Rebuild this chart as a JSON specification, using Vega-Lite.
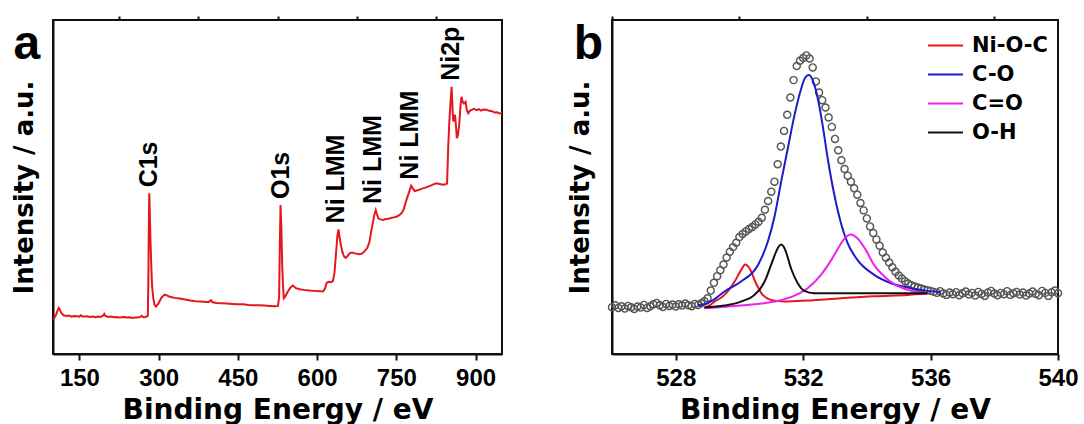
{
  "$schema": "https://vega.github.io/schema/vega-lite/v6.json",
  "padding": {"left": 10, "top": 14, "right": 0, "bottom": 0},
  "background": "white",
  "spacing": 59,
  "resolve": {"scale": {"color": "independent"}, "legend": {"color": "independent"}},
  "config": {
    "view": {"stroke": "#111111", "strokeWidth": 2},
    "axis": {"grid": false},
    "font": "Liberation Sans"
  },
  "datasets": {
    "survey": [
      {"E": 100, "I": 10.6}, {"E": 103, "I": 10.9}, {"E": 106, "I": 11.8}, {"E": 109, "I": 13.2}, {"E": 111, "I": 13.8},
      {"E": 113, "I": 13.2}, {"E": 116, "I": 12.2}, {"E": 120, "I": 11.6}, {"E": 125, "I": 11.4}, {"E": 130, "I": 11.5},
      {"E": 135, "I": 11.2}, {"E": 140, "I": 11.4}, {"E": 145, "I": 11.3}, {"E": 150, "I": 11.2}, {"E": 153, "I": 11.6},
      {"E": 156, "I": 11.2}, {"E": 160, "I": 11.2}, {"E": 165, "I": 11.3}, {"E": 170, "I": 11.1}, {"E": 175, "I": 11.2},
      {"E": 180, "I": 11.0}, {"E": 185, "I": 11.2}, {"E": 190, "I": 11.1}, {"E": 195, "I": 11.5}, {"E": 197, "I": 12.0},
      {"E": 199, "I": 11.4}, {"E": 205, "I": 11.1}, {"E": 210, "I": 11.2}, {"E": 215, "I": 11.0}, {"E": 220, "I": 11.1},
      {"E": 225, "I": 10.9}, {"E": 230, "I": 11.0}, {"E": 235, "I": 11.1}, {"E": 240, "I": 10.9}, {"E": 245, "I": 11.0},
      {"E": 250, "I": 10.8}, {"E": 255, "I": 10.9}, {"E": 260, "I": 10.9}, {"E": 265, "I": 11.1}, {"E": 268, "I": 11.4},
      {"E": 271, "I": 11.0}, {"E": 275, "I": 11.1}, {"E": 279.5, "I": 11.4}, {"E": 280.5, "I": 22.0}, {"E": 281.5, "I": 40.0},
      {"E": 282.2, "I": 48.1}, {"E": 283, "I": 44.0}, {"E": 284.5, "I": 34.0}, {"E": 286, "I": 26.6}, {"E": 287.5, "I": 20.5},
      {"E": 289.8, "I": 16.7}, {"E": 292.5, "I": 14.6}, {"E": 295, "I": 14.2}, {"E": 300, "I": 15.2}, {"E": 305, "I": 16.8},
      {"E": 310.6, "I": 17.7}, {"E": 315, "I": 17.6}, {"E": 320, "I": 17.2}, {"E": 325, "I": 17.0}, {"E": 330, "I": 16.8},
      {"E": 340, "I": 16.6}, {"E": 350, "I": 16.3}, {"E": 360, "I": 16.0}, {"E": 370, "I": 15.8}, {"E": 380, "I": 15.7},
      {"E": 390, "I": 15.6}, {"E": 395, "I": 15.6}, {"E": 399, "I": 16.1}, {"E": 402, "I": 15.5}, {"E": 410, "I": 15.3},
      {"E": 420, "I": 15.2}, {"E": 430, "I": 15.1}, {"E": 440, "I": 15.0}, {"E": 450, "I": 14.9}, {"E": 460, "I": 14.9},
      {"E": 470, "I": 14.7}, {"E": 480, "I": 14.6}, {"E": 490, "I": 14.6}, {"E": 500, "I": 14.5}, {"E": 510, "I": 14.4},
      {"E": 520, "I": 14.3}, {"E": 526, "I": 14.4}, {"E": 528, "I": 17.0}, {"E": 529.5, "I": 33.0}, {"E": 530.7, "I": 44.6},
      {"E": 532.3, "I": 38.0}, {"E": 533.9, "I": 26.6}, {"E": 535.5, "I": 20.0}, {"E": 537, "I": 16.7}, {"E": 540, "I": 17.3},
      {"E": 544.6, "I": 18.7}, {"E": 549, "I": 19.8}, {"E": 554, "I": 20.5}, {"E": 560, "I": 19.7}, {"E": 566.8, "I": 19.4},
      {"E": 575, "I": 19.2}, {"E": 585, "I": 19.0}, {"E": 595, "I": 18.9}, {"E": 605, "I": 18.8}, {"E": 611, "I": 18.7},
      {"E": 615, "I": 19.6}, {"E": 618, "I": 21.3}, {"E": 622, "I": 21.6}, {"E": 626, "I": 21.5}, {"E": 630, "I": 21.8},
      {"E": 633, "I": 24.5}, {"E": 636, "I": 30.6}, {"E": 638.5, "I": 35.5}, {"E": 640.5, "I": 37.3}, {"E": 642, "I": 35.5},
      {"E": 645, "I": 32.6}, {"E": 648, "I": 30.5}, {"E": 651, "I": 29.2}, {"E": 654, "I": 28.8}, {"E": 658, "I": 29.4},
      {"E": 662, "I": 30.2}, {"E": 666, "I": 30.4}, {"E": 670, "I": 30.2}, {"E": 675, "I": 30.0}, {"E": 680, "I": 29.9},
      {"E": 685, "I": 30.1}, {"E": 690, "I": 30.8}, {"E": 695, "I": 31.8}, {"E": 699, "I": 33.5}, {"E": 702, "I": 36.4},
      {"E": 705, "I": 38.8}, {"E": 708, "I": 41.5}, {"E": 711, "I": 43.1}, {"E": 713, "I": 42.0}, {"E": 716, "I": 40.6},
      {"E": 720, "I": 40.3}, {"E": 725, "I": 40.1}, {"E": 730, "I": 40.4}, {"E": 735, "I": 40.5}, {"E": 740, "I": 40.7},
      {"E": 745, "I": 40.9}, {"E": 750, "I": 41.1}, {"E": 755, "I": 41.5}, {"E": 760, "I": 42.2}, {"E": 764, "I": 43.3},
      {"E": 767, "I": 45.0}, {"E": 770, "I": 46.6}, {"E": 774, "I": 48.4}, {"E": 778, "I": 50.4}, {"E": 781, "I": 49.6},
      {"E": 785, "I": 48.8}, {"E": 790, "I": 49.0}, {"E": 795, "I": 49.3}, {"E": 800, "I": 49.6}, {"E": 805, "I": 49.8},
      {"E": 810, "I": 50.1}, {"E": 815, "I": 50.4}, {"E": 820, "I": 50.8}, {"E": 826, "I": 51.1}, {"E": 832, "I": 50.9},
      {"E": 838, "I": 50.7}, {"E": 843, "I": 50.8}, {"E": 846, "I": 51.0}, {"E": 848.2, "I": 62.0}, {"E": 850, "I": 68.6},
      {"E": 852, "I": 74.0}, {"E": 854.6, "I": 80.0}, {"E": 856.5, "I": 73.0}, {"E": 857.7, "I": 69.6}, {"E": 860.9, "I": 71.6},
      {"E": 862.5, "I": 69.0}, {"E": 864.5, "I": 64.6}, {"E": 866.5, "I": 65.5}, {"E": 869, "I": 68.6}, {"E": 871.5, "I": 74.5},
      {"E": 873.5, "I": 77.0}, {"E": 875.5, "I": 75.5}, {"E": 877.9, "I": 75.0}, {"E": 881.1, "I": 75.5}, {"E": 883.5, "I": 73.0},
      {"E": 886.1, "I": 72.1}, {"E": 889, "I": 72.8}, {"E": 892.5, "I": 73.1}, {"E": 897, "I": 73.4}, {"E": 902, "I": 73.0},
      {"E": 906, "I": 73.3}, {"E": 910, "I": 72.9}, {"E": 915, "I": 73.2}, {"E": 921, "I": 73.1}, {"E": 926, "I": 72.8},
      {"E": 931, "I": 72.7}, {"E": 936, "I": 72.3}, {"E": 941, "I": 72.4}, {"E": 945, "I": 72.0}, {"E": 950, "I": 72.1}
    ],
    "peaks": [
      {"label": "C1s", "E": 282, "I": 48.1},
      {"label": "O1s", "E": 531, "I": 44.6},
      {"label": "Ni LMM", "E": 636.5, "I": 37.3},
      {"label": "Ni LMM", "E": 706.6, "I": 43.1},
      {"label": "Ni LMM", "E": 775.5, "I": 50.4},
      {"label": "Ni2p", "E": 852.6, "I": 80.0}
    ],
    "panelA": [{"label": "a", "E": 25.2, "I": 88.3}],
    "panelB": [{"label": "b", "E": 524.8, "I": 88.3}],
    "raw": [
      {"E": 526.0, "I": 14.0}, {"E": 526.1, "I": 14.6}, {"E": 526.2, "I": 13.8}, {"E": 526.3, "I": 14.3}, {"E": 526.4, "I": 13.6},
      {"E": 526.5, "I": 14.4}, {"E": 526.6, "I": 14.0}, {"E": 526.7, "I": 13.5}, {"E": 526.8, "I": 14.2}, {"E": 526.9, "I": 13.9},
      {"E": 527.0, "I": 14.7}, {"E": 527.1, "I": 13.8}, {"E": 527.2, "I": 14.3}, {"E": 527.3, "I": 14.9}, {"E": 527.4, "I": 15.3},
      {"E": 527.5, "I": 14.6}, {"E": 527.6, "I": 14.1}, {"E": 527.7, "I": 15.0}, {"E": 527.8, "I": 14.4}, {"E": 527.9, "I": 14.8},
      {"E": 528.0, "I": 14.2}, {"E": 528.1, "I": 14.9}, {"E": 528.2, "I": 14.5}, {"E": 528.3, "I": 15.1}, {"E": 528.4, "I": 14.6},
      {"E": 528.5, "I": 14.3}, {"E": 528.6, "I": 15.0}, {"E": 528.7, "I": 14.7}, {"E": 528.8, "I": 15.2}, {"E": 528.9, "I": 15.8},
      {"E": 529.0, "I": 16.7}, {"E": 529.1, "I": 19.0}, {"E": 529.2, "I": 21.3}, {"E": 529.3, "I": 23.3}, {"E": 529.4, "I": 25.1},
      {"E": 529.5, "I": 26.8}, {"E": 529.6, "I": 28.9}, {"E": 529.7, "I": 30.6}, {"E": 529.8, "I": 32.0}, {"E": 529.9, "I": 33.3},
      {"E": 530.0, "I": 35.0}, {"E": 530.1, "I": 35.9}, {"E": 530.2, "I": 36.7}, {"E": 530.3, "I": 37.4}, {"E": 530.4, "I": 38.0},
      {"E": 530.5, "I": 38.8}, {"E": 530.6, "I": 39.6}, {"E": 530.7, "I": 40.8}, {"E": 530.8, "I": 43.2}, {"E": 530.9, "I": 45.8},
      {"E": 531.0, "I": 48.6}, {"E": 531.1, "I": 51.6}, {"E": 531.2, "I": 56.8}, {"E": 531.3, "I": 62.1}, {"E": 531.4, "I": 66.8},
      {"E": 531.5, "I": 71.6}, {"E": 531.6, "I": 76.8}, {"E": 531.7, "I": 82.0}, {"E": 531.8, "I": 86.2}, {"E": 531.9, "I": 87.8},
      {"E": 532.0, "I": 88.6}, {"E": 532.1, "I": 89.4}, {"E": 532.2, "I": 88.5}, {"E": 532.3, "I": 85.8}, {"E": 532.4, "I": 81.6},
      {"E": 532.5, "I": 78.3}, {"E": 532.6, "I": 76.0}, {"E": 532.7, "I": 73.8}, {"E": 532.8, "I": 70.8}, {"E": 532.9, "I": 68.0},
      {"E": 533.0, "I": 64.4}, {"E": 533.1, "I": 61.0}, {"E": 533.2, "I": 58.0}, {"E": 533.3, "I": 55.4}, {"E": 533.4, "I": 53.4},
      {"E": 533.5, "I": 51.6}, {"E": 533.6, "I": 49.6}, {"E": 533.7, "I": 47.7}, {"E": 533.8, "I": 45.2}, {"E": 533.9, "I": 43.0},
      {"E": 534.0, "I": 40.6}, {"E": 534.1, "I": 38.2}, {"E": 534.2, "I": 36.2}, {"E": 534.3, "I": 34.3}, {"E": 534.4, "I": 32.4},
      {"E": 534.5, "I": 30.4}, {"E": 534.6, "I": 28.8}, {"E": 534.7, "I": 27.4}, {"E": 534.8, "I": 26.0}, {"E": 534.9, "I": 24.6},
      {"E": 535.0, "I": 23.5}, {"E": 535.1, "I": 22.6}, {"E": 535.2, "I": 21.8}, {"E": 535.3, "I": 21.1}, {"E": 535.4, "I": 20.6},
      {"E": 535.5, "I": 20.2}, {"E": 535.6, "I": 19.9}, {"E": 535.7, "I": 19.6}, {"E": 535.8, "I": 19.3}, {"E": 535.9, "I": 19.1},
      {"E": 536.0, "I": 18.9}, {"E": 536.1, "I": 18.6}, {"E": 536.2, "I": 18.3}, {"E": 536.3, "I": 18.8}, {"E": 536.4, "I": 18.1},
      {"E": 536.5, "I": 17.7}, {"E": 536.6, "I": 18.4}, {"E": 536.7, "I": 17.9}, {"E": 536.8, "I": 18.5}, {"E": 536.9, "I": 17.6},
      {"E": 537.0, "I": 18.2}, {"E": 537.1, "I": 18.7}, {"E": 537.2, "I": 17.8}, {"E": 537.3, "I": 18.3}, {"E": 537.4, "I": 17.5},
      {"E": 537.5, "I": 18.6}, {"E": 537.6, "I": 18.0}, {"E": 537.7, "I": 17.4}, {"E": 537.8, "I": 18.4}, {"E": 537.9, "I": 18.9},
      {"E": 538.0, "I": 18.1}, {"E": 538.1, "I": 17.6}, {"E": 538.2, "I": 18.3}, {"E": 538.3, "I": 17.9}, {"E": 538.4, "I": 18.8},
      {"E": 538.5, "I": 17.7}, {"E": 538.6, "I": 18.2}, {"E": 538.7, "I": 18.6}, {"E": 538.8, "I": 17.8}, {"E": 538.9, "I": 18.4},
      {"E": 539.0, "I": 17.5}, {"E": 539.1, "I": 18.1}, {"E": 539.2, "I": 18.7}, {"E": 539.3, "I": 18.0}, {"E": 539.4, "I": 17.6},
      {"E": 539.5, "I": 18.9}, {"E": 539.6, "I": 18.3}, {"E": 539.7, "I": 17.4}, {"E": 539.8, "I": 18.5}, {"E": 539.9, "I": 19.0},
      {"E": 540.0, "I": 18.2}
    ],
    "fit": [
      {"comp": "Ni-O-C", "E": 528.9, "I": 13.9}, {"comp": "Ni-O-C", "E": 529.1, "I": 14.8}, {"comp": "Ni-O-C", "E": 529.22, "I": 15.7},
      {"comp": "Ni-O-C", "E": 529.4, "I": 16.7}, {"comp": "Ni-O-C", "E": 529.53, "I": 17.7}, {"comp": "Ni-O-C", "E": 529.7, "I": 19.6},
      {"comp": "Ni-O-C", "E": 529.85, "I": 21.7}, {"comp": "Ni-O-C", "E": 530.05, "I": 25.1}, {"comp": "Ni-O-C", "E": 530.18, "I": 26.8},
      {"comp": "Ni-O-C", "E": 530.32, "I": 25.6}, {"comp": "Ni-O-C", "E": 530.52, "I": 21.2}, {"comp": "Ni-O-C", "E": 530.73, "I": 17.7},
      {"comp": "Ni-O-C", "E": 530.99, "I": 16.2}, {"comp": "Ni-O-C", "E": 531.41, "I": 15.7}, {"comp": "Ni-O-C", "E": 532.14, "I": 16.0},
      {"comp": "Ni-O-C", "E": 533.19, "I": 16.7}, {"comp": "Ni-O-C", "E": 534.23, "I": 17.3}, {"comp": "Ni-O-C", "E": 535.28, "I": 17.7},
      {"comp": "Ni-O-C", "E": 535.9, "I": 18.1},
      {"comp": "C-O", "E": 528.7, "I": 14.6}, {"comp": "C-O", "E": 528.9, "I": 14.9}, {"comp": "C-O", "E": 529.2, "I": 16.3},
      {"comp": "C-O", "E": 529.53, "I": 18.7}, {"comp": "C-O", "E": 530.05, "I": 21.7}, {"comp": "C-O", "E": 530.58, "I": 26.6},
      {"comp": "C-O", "E": 530.89, "I": 33.6}, {"comp": "C-O", "E": 531.1, "I": 41.1}, {"comp": "C-O", "E": 531.31, "I": 51.6},
      {"comp": "C-O", "E": 531.52, "I": 61.6}, {"comp": "C-O", "E": 531.73, "I": 71.6}, {"comp": "C-O", "E": 531.94, "I": 79.5},
      {"comp": "C-O", "E": 532.06, "I": 82.7}, {"comp": "C-O", "E": 532.18, "I": 83.5}, {"comp": "C-O", "E": 532.3, "I": 82.0},
      {"comp": "C-O", "E": 532.46, "I": 76.5}, {"comp": "C-O", "E": 532.61, "I": 68.6}, {"comp": "C-O", "E": 532.77, "I": 58.6},
      {"comp": "C-O", "E": 532.98, "I": 47.6}, {"comp": "C-O", "E": 533.19, "I": 39.1}, {"comp": "C-O", "E": 533.4, "I": 33.1},
      {"comp": "C-O", "E": 533.71, "I": 28.1}, {"comp": "C-O", "E": 534.23, "I": 23.7}, {"comp": "C-O", "E": 534.76, "I": 21.2},
      {"comp": "C-O", "E": 535.28, "I": 19.9}, {"comp": "C-O", "E": 535.9, "I": 18.9}, {"comp": "C-O", "E": 536.32, "I": 18.5},
      {"comp": "C=O", "E": 528.9, "I": 13.7}, {"comp": "C=O", "E": 530.05, "I": 14.5}, {"comp": "C=O", "E": 531.1, "I": 15.7},
      {"comp": "C=O", "E": 531.73, "I": 17.5}, {"comp": "C=O", "E": 532.14, "I": 19.7}, {"comp": "C=O", "E": 532.56, "I": 23.7},
      {"comp": "C=O", "E": 532.88, "I": 28.1}, {"comp": "C=O", "E": 533.19, "I": 33.1}, {"comp": "C=O", "E": 533.35, "I": 35.1},
      {"comp": "C=O", "E": 533.5, "I": 35.8}, {"comp": "C=O", "E": 533.71, "I": 34.6}, {"comp": "C=O", "E": 533.97, "I": 31.1},
      {"comp": "C=O", "E": 534.23, "I": 26.6}, {"comp": "C=O", "E": 534.55, "I": 23.2}, {"comp": "C=O", "E": 534.86, "I": 20.9},
      {"comp": "C=O", "E": 535.28, "I": 19.2}, {"comp": "C=O", "E": 535.9, "I": 18.1},
      {"comp": "O-H", "E": 528.9, "I": 13.9}, {"comp": "O-H", "E": 529.53, "I": 14.5}, {"comp": "O-H", "E": 530.05, "I": 15.7},
      {"comp": "O-H", "E": 530.47, "I": 17.7}, {"comp": "O-H", "E": 530.65, "I": 19.5}, {"comp": "O-H", "E": 530.79, "I": 21.7},
      {"comp": "O-H", "E": 530.99, "I": 26.6}, {"comp": "O-H", "E": 531.15, "I": 30.6}, {"comp": "O-H", "E": 531.23, "I": 32.1},
      {"comp": "O-H", "E": 531.31, "I": 32.8}, {"comp": "O-H", "E": 531.39, "I": 32.1}, {"comp": "O-H", "E": 531.46, "I": 30.6},
      {"comp": "O-H", "E": 531.62, "I": 25.6}, {"comp": "O-H", "E": 531.83, "I": 21.2}, {"comp": "O-H", "E": 532.04, "I": 18.9},
      {"comp": "O-H", "E": 532.35, "I": 18.2}, {"comp": "O-H", "E": 533.5, "I": 18.2}, {"comp": "O-H", "E": 534.8, "I": 18.2},
      {"comp": "O-H", "E": 535.9, "I": 18.2}
    ]
  },
  "hconcat": [
    {
      "width": 449,
      "height": 334,
      "resolve": {"axis": {"x": "independent"}},
      "layer": [
        {
          "data": {"name": "survey"},
          "mark": {"type": "line", "color": "#e6161c", "strokeWidth": 2},
          "encoding": {
            "x": {"field": "E", "type": "quantitative", "scale": {"domain": [100, 950], "nice": false, "zero": false},
              "axis": {"values": [150, 300, 450, 600, 750, 900], "format": "d", "title": "Binding Energy / eV", "tickSize": 6, "tickWidth": 2, "tickColor": "#111111", "domainColor": "#111111", "domainWidth": 2, "labelFont": "Liberation Sans", "labelFontSize": 24, "labelFontWeight": "bold", "labelColor": "#000000", "labelPadding": 6, "labelFlush": false, "labelOverlap": false, "titleFont": "DejaVu Sans", "titleFontSize": 28, "titleFontWeight": "bold", "titleColor": "#000000", "titlePadding": 6}},
            "y": {"field": "I", "type": "quantitative", "scale": {"domain": [0, 100], "nice": false, "zero": false},
              "axis": {"title": "Intensity / a.u.", "ticks": false, "labels": false, "domainColor": "#111111", "domainWidth": 2, "titleFont": "DejaVu Sans", "titleFontSize": 26, "titleFontWeight": "bold", "titleColor": "#000000", "titlePadding": 16}}
          }
        },
        {
          "data": {"name": "peaks"},
          "mark": {"type": "text", "angle": 270, "align": "left", "baseline": "middle", "dx": 6, "font": "Liberation Sans", "fontSize": 25, "fontWeight": "bold", "color": "#000000"},
          "encoding": {
            "x": {"field": "E", "type": "quantitative",
              "axis": {"values": [225, 375, 525, 675, 825], "labels": false, "title": null, "tickSize": 4, "tickWidth": 2, "tickColor": "#111111", "domain": false}},
            "y": {"field": "I", "type": "quantitative"},
            "text": {"field": "label", "type": "nominal"}
          }
        },
        {
          "data": {"name": "panelA"},
          "mark": {"type": "text", "align": "left", "baseline": "alphabetic", "font": "Liberation Sans", "fontSize": 48, "fontWeight": "bold", "color": "#000000"},
          "encoding": {
            "x": {"field": "E", "type": "quantitative", "axis": null},
            "y": {"field": "I", "type": "quantitative"},
            "text": {"field": "label", "type": "nominal"}
          }
        }
      ]
    },
    {
      "width": 446,
      "height": 334,
      "resolve": {"axis": {"x": "independent"}},
      "layer": [
        {
          "data": {"name": "raw"},
          "mark": {"type": "point", "shape": "circle", "filled": false, "size": 50, "stroke": "#555555", "strokeWidth": 1.4, "opacity": 1},
          "encoding": {
            "x": {"field": "E", "type": "quantitative", "scale": {"domain": [526, 540], "nice": false, "zero": false},
              "axis": {"values": [528, 532, 536, 540], "format": "d", "title": "Binding Energy / eV", "tickSize": 6, "tickWidth": 2, "tickColor": "#111111", "domainColor": "#111111", "domainWidth": 2, "labelFont": "Liberation Sans", "labelFontSize": 24, "labelFontWeight": "bold", "labelColor": "#000000", "labelPadding": 6, "labelFlush": false, "labelOverlap": false, "titleFont": "DejaVu Sans", "titleFontSize": 28, "titleFontWeight": "bold", "titleColor": "#000000", "titlePadding": 6}},
            "y": {"field": "I", "type": "quantitative", "scale": {"domain": [0, 100], "nice": false, "zero": false},
              "axis": {"title": "Intensity / a.u.", "ticks": false, "labels": false, "domainColor": "#111111", "domainWidth": 2, "titleFont": "DejaVu Sans", "titleFontSize": 26, "titleFontWeight": "bold", "titleColor": "#000000", "titlePadding": 19}}
          }
        },
        {
          "data": {"name": "fit"},
          "mark": {"type": "line", "strokeWidth": 2, "interpolate": "monotone"},
          "encoding": {
            "x": {"field": "E", "type": "quantitative",
              "axis": {"values": [526, 530, 534, 538], "labels": false, "title": null, "tickSize": 4, "tickWidth": 2, "tickColor": "#111111", "domain": false}},
            "y": {"field": "I", "type": "quantitative"},
            "color": {"field": "comp", "type": "nominal",
              "scale": {"domain": ["Ni-O-C", "C-O", "C=O", "O-H"], "range": ["#e6161c", "#1c1ccc", "#ee22ee", "#111111"]},
              "legend": {"orient": "none", "legendX": 315, "legendY": 7, "title": null, "symbolType": "stroke", "symbolSize": 1225, "symbolStrokeWidth": 2, "labelFont": "DejaVu Sans", "labelFontSize": 21, "labelFontWeight": "bold", "labelColor": "#000000", "rowPadding": -8, "labelOffset": 8, "padding": 0}}
          }
        },
        {
          "data": {"name": "panelB"},
          "mark": {"type": "text", "align": "left", "baseline": "alphabetic", "font": "Liberation Sans", "fontSize": 48, "fontWeight": "bold", "color": "#000000"},
          "encoding": {
            "x": {"field": "E", "type": "quantitative", "axis": null},
            "y": {"field": "I", "type": "quantitative"},
            "text": {"field": "label", "type": "nominal"}
          }
        }
      ]
    }
  ]
}
